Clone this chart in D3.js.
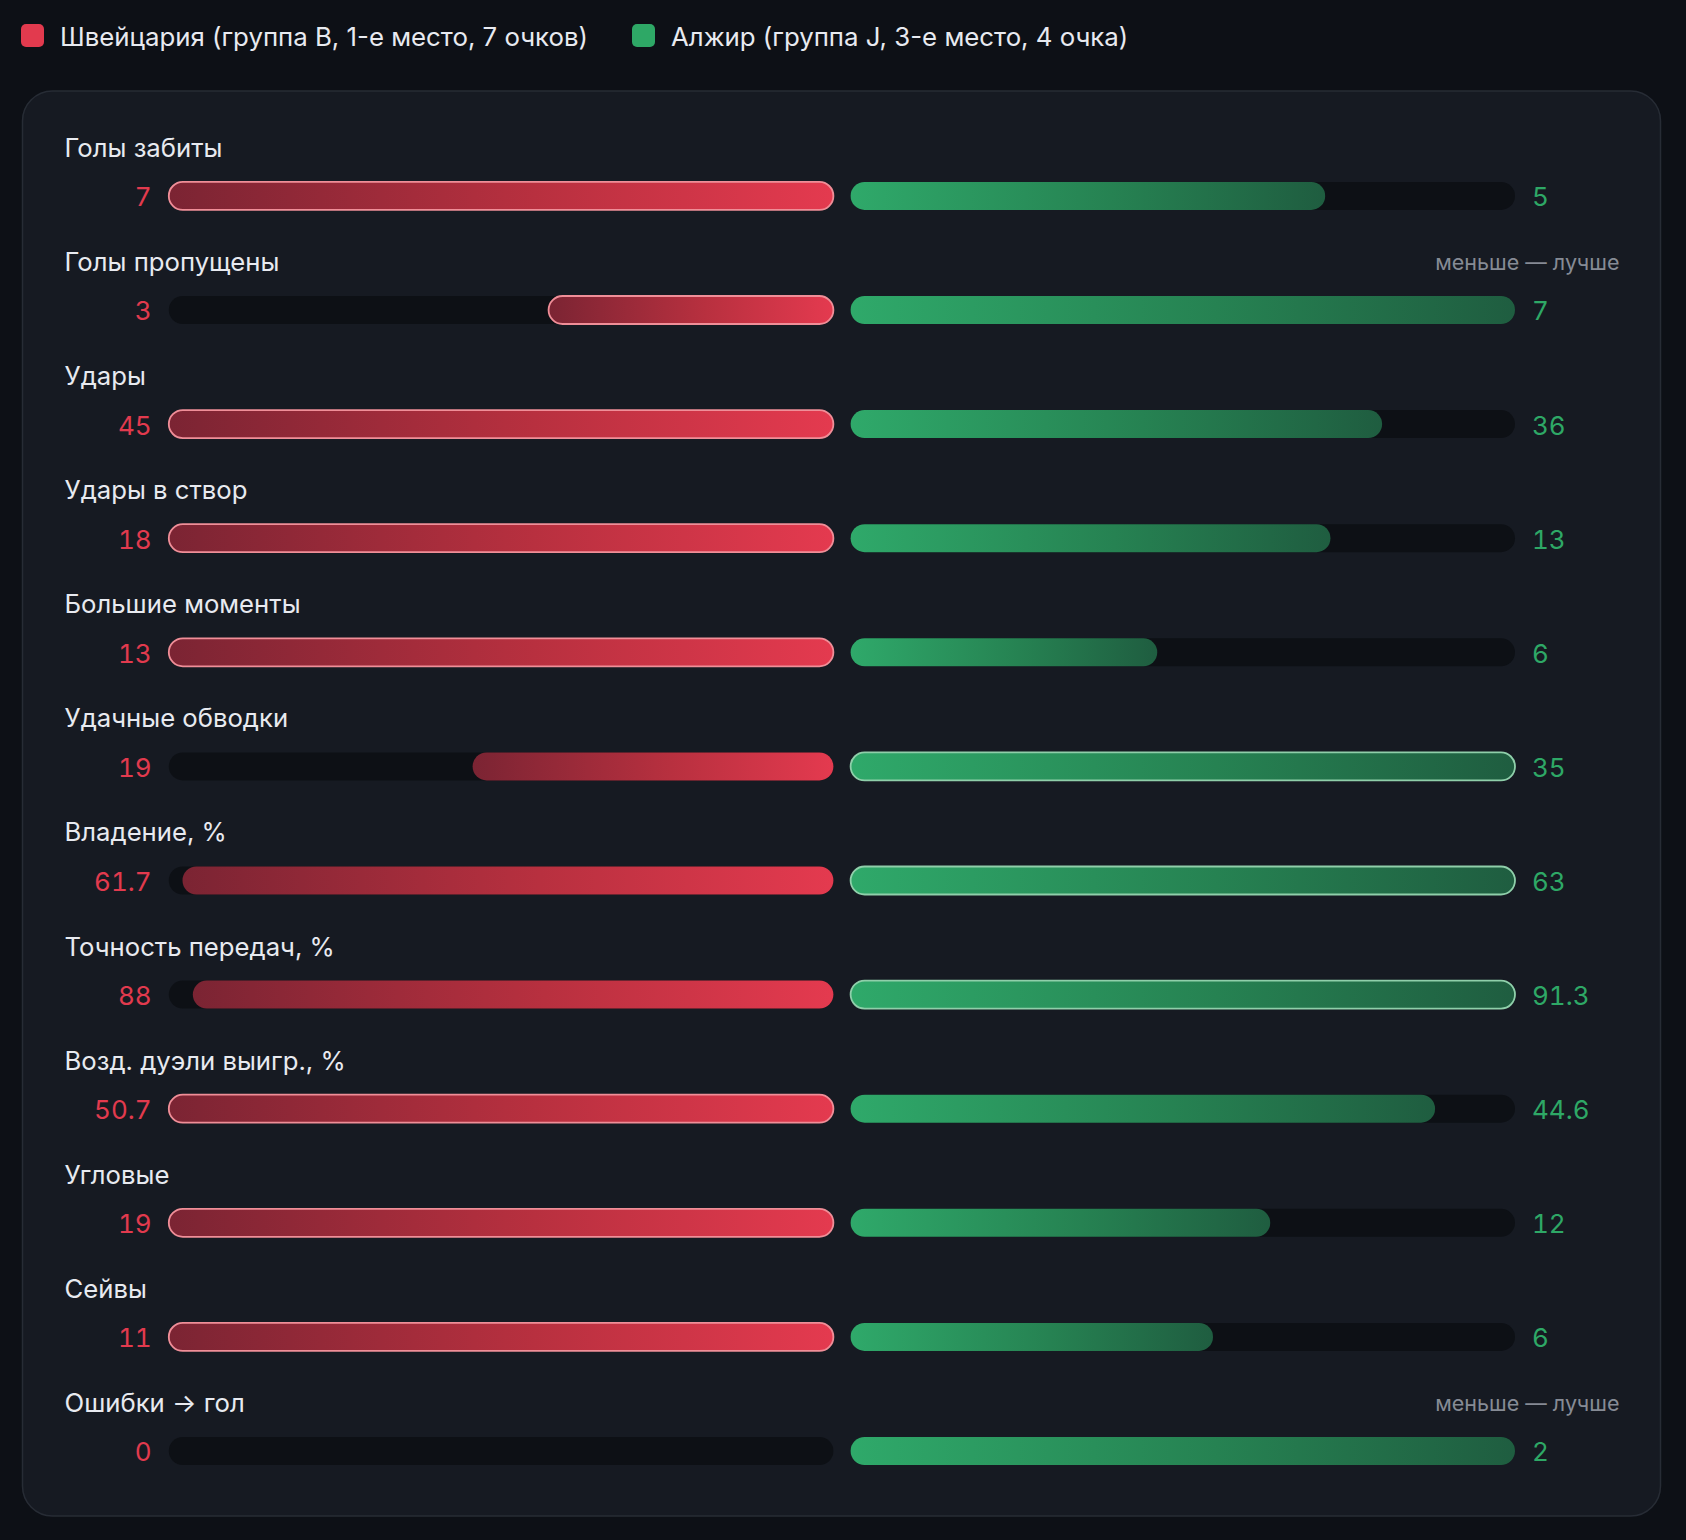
<!DOCTYPE html>
<html lang="ru">
<head>
  <meta charset="UTF-8">
  <title>Швейцария — Алжир</title>
  <script src="https://d3js.org/d3.v7.min.js"></script>
  <style>
    html, body { margin: 0; padding: 0; background: #0d1016; }
    svg { display: block; }
    text.val { font-variant-numeric: tabular-nums; font-feature-settings: "tnum"; }
  </style>
</head>
<body>
  <script>
    // data
    var metrics = ["Голы забиты", "Голы пропущены", "Удары", "Удары в створ", "Большие моменты",
      "Удачные обводки", "Владение, %", "Точность передач, %", "Возд. дуэли выигр., %",
      "Угловые", "Сейвы", "Ошибки → гол"];
    var swiss = [7, 3, 45, 18, 13, 19, 61.7, 88, 50.7, 19, 11, 0];
    var algeria = [5, 7, 36, 13, 6, 35, 63, 91.3, 44.6, 12, 6, 2];
    var lowerBetter = [false, true, false, false, false, false, false, false, false, false, false, true];
    var teams = ["Швейцария (группа B, 1-е место, 7 очков)", "Алжир (группа J, 3-е место, 4 очка)"];
    var note = "меньше — лучше";

    var W = 1686, H = 1540;
    var red = "#e23a4e", green = "#2ea866";
    var font = "Inter, 'Noto Sans', sans-serif";

    var svg = d3.select("body").append("svg")
      .attr("width", W).attr("height", H);

    var defs = svg.append("defs");
    var gr = defs.append("linearGradient").attr("id", "gRed")
      .attr("x1", "0").attr("x2", "1").attr("y1", "0").attr("y2", "0");
    gr.append("stop").attr("offset", "0%").attr("stop-color", "#7b2433");
    gr.append("stop").attr("offset", "55%").attr("stop-color", "#b8303f");
    gr.append("stop").attr("offset", "100%").attr("stop-color", "#e43a4f");
    var gg = defs.append("linearGradient").attr("id", "gGreen")
      .attr("x1", "0").attr("x2", "1").attr("y1", "0").attr("y2", "0");
    gg.append("stop").attr("offset", "0%").attr("stop-color", "#2fa96a");
    gg.append("stop").attr("offset", "55%").attr("stop-color", "#268252");
    gg.append("stop").attr("offset", "100%").attr("stop-color", "#1f5d40");

    // legend
    var legend = svg.append("g");
    var legX = [21, 632];
    teams.forEach(function (t, i) {
      legend.append("rect")
        .attr("x", legX[i]).attr("y", 24).attr("width", 23).attr("height", 23)
        .attr("rx", 5).attr("fill", i == 0 ? red : green);
      legend.append("text")
        .attr("x", legX[i] + 39).attr("y", 36)
        .attr("dominant-baseline", "central")
        .attr("fill", "#e8eaf0").style("font-family", font).style("font-size", "25.8px")
        .text(t);
    });

    // panel
    svg.append("rect")
      .attr("x", 22.5).attr("y", 91).attr("width", 1638).attr("height", 1425)
      .attr("rx", 30).attr("fill", "#161a22").attr("stroke", "#272c35").attr("stroke-width", 1.5);

    // layout scales
    var y = d3.scaleBand().domain(metrics).range([125.3, 125.3 + 114.1 * metrics.length]);
    var leftX0 = 168.8, leftX1 = 833.4, rightX0 = 850.6, rightX1 = 1515;
    var barH = 28;

    var rows = svg.selectAll("g.row")
      .data(metrics)
      .enter().append("g")
      .attr("class", "row")
      .attr("transform", function (d) { return "translate(0," + y(d) + ")"; });

    rows.each(function (name, i) {
      var g = d3.select(this);
      var a = swiss[i], b = algeria[i];
      var max = Math.max(a, b);
      var xl = d3.scaleLinear().domain([0, max]).range([leftX1, leftX0]);
      var xr = d3.scaleLinear().domain([0, max]).range([rightX0, rightX1]);
      var cy = 70.6;
      var winner = lowerBetter[i] ? (a < b ? 0 : 1) : (a > b ? 0 : 1);

      g.append("text")
        .attr("x", 64.5).attr("y", 22)
        .attr("dominant-baseline", "central")
        .attr("fill", "#e8eaf0").style("font-family", font).style("font-size", "25.7px")
        .text(name);

      if (lowerBetter[i]) {
        g.append("text")
          .attr("x", 1619.5).attr("y", 23)
          .attr("dominant-baseline", "central").attr("text-anchor", "end")
          .attr("fill", "#868b95").style("font-family", font).style("font-size", "21.5px")
          .text(note);
      }

      // tracks
      g.append("rect").attr("x", leftX0).attr("y", cy - barH / 2)
        .attr("width", leftX1 - leftX0).attr("height", barH).attr("rx", barH / 2)
        .attr("fill", "#0d1015");
      g.append("rect").attr("x", rightX0).attr("y", cy - barH / 2)
        .attr("width", rightX1 - rightX0).attr("height", barH).attr("rx", barH / 2)
        .attr("fill", "#0d1015");

      // bars
      if (a > 0) {
        g.append("rect").attr("x", xl(a)).attr("y", cy - barH / 2)
          .attr("width", leftX1 - xl(a)).attr("height", barH).attr("rx", barH / 2)
          .attr("fill", "url(#gRed)")
          .attr("stroke", winner == 0 ? "#f08e98" : "none")
          .attr("stroke-width", 1.8);
      }
      if (b > 0) {
        g.append("rect").attr("x", rightX0).attr("y", cy - barH / 2)
          .attr("width", xr(b) - rightX0).attr("height", barH).attr("rx", barH / 2)
          .attr("fill", "url(#gGreen)")
          .attr("stroke", winner == 1 ? "#8fcfaa" : "none")
          .attr("stroke-width", 1.8);
      }

      // values
      g.append("text").attr("class", "val")
        .attr("x", 151.6).attr("y", cy + 1)
        .attr("dominant-baseline", "central").attr("text-anchor", "end")
        .attr("fill", red).style("font-family", font).style("font-size", "26px")
        .text(a);
      g.append("text").attr("class", "val")
        .attr("x", 1532).attr("y", cy + 1)
        .attr("dominant-baseline", "central")
        .attr("fill", green).style("font-family", font).style("font-size", "26px")
        .text(b);
    });
  </script>
</body>
</html>
